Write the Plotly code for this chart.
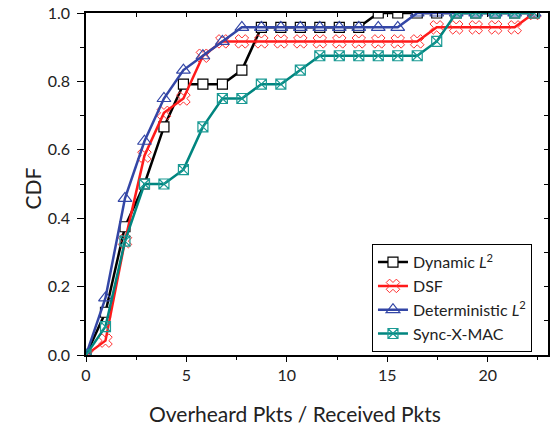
import plotly.graph_objects as go

# ---- data ----
x_vals = [0, 0.97, 1.94, 2.91, 3.88, 4.85, 5.82, 6.79, 7.76, 8.73, 9.70, 10.67,
          11.64, 12.61, 13.58, 14.55, 15.52, 16.49, 17.46, 18.43, 19.40, 20.37, 21.34, 22.31]

dynamic_l2 = [0, 0.125, 0.375, 0.5, 0.667, 0.792, 0.792, 0.792, 0.833, 0.958, 0.958, 0.958,
              0.958, 0.958, 0.958, 1.0, 1.0, 1.0, 1.0, 1.0, 1.0, 1.0, 1.0, 1.0]
dsf = [0, 0.042, 0.333, 0.583, 0.708, 0.75, 0.875, 0.917, 0.917, 0.917, 0.917, 0.917,
       0.917, 0.917, 0.917, 0.917, 0.917, 0.917, 0.958, 0.958, 0.958, 0.958, 0.958, 1.0]
deterministic_l2 = [0, 0.167, 0.458, 0.625, 0.75, 0.833, 0.875, 0.917, 0.958, 0.958, 0.958, 0.958,
                    0.958, 0.958, 0.958, 0.958, 0.958, 1.0, 1.0, 1.0, 1.0, 1.0, 1.0, 1.0]
sync_x_mac = [0, 0.083, 0.333, 0.5, 0.5, 0.542, 0.667, 0.75, 0.75, 0.792, 0.792, 0.833,
              0.875, 0.875, 0.875, 0.875, 0.875, 0.875, 0.917, 1.0, 1.0, 1.0, 1.0, 1.0]

series_names = ["Dynamic <i>L</i><sup>2</sup>", "DSF", "Deterministic <i>L</i><sup>2</sup>", "Sync-X-MAC"]
x_title = "Overheard Pkts / Received Pkts"
y_title = "CDF"
x_range = [0, 23]
y_range = [0, 1]

FONT = "Lato"

fig = go.Figure()

styles = [
    dict(line=dict(color="#000000", width=2.5),
         marker=dict(symbol="square", size=10, color="white", line=dict(color="#000000", width=1.2))),
    dict(line=dict(color="#FF1A1A", width=2.5),
         marker=dict(symbol="x-open", size=12, color="#FF3030", line=dict(width=1))),
    dict(line=dict(color="#3346A6", width=2.5),
         marker=dict(symbol="triangle-up-open", size=12, color="#3346A6", line=dict(width=1.2))),
    dict(line=dict(color="#00857F", width=2.5),
         marker=dict(symbol="square-x-open", size=10, color="#1A9A94", line=dict(width=1.2))),
]
data = [dynamic_l2, dsf, deterministic_l2, sync_x_mac]

for name, ys, st in zip(series_names, data, styles):
    fig.add_trace(go.Scatter(x=x_vals, y=ys, mode="lines+markers", name=name,
                             line=st["line"], marker=st["marker"]))

# dummy trace to register mirrored axes with inward ticks
fig.add_trace(go.Scatter(x=[x_range[0]], y=[y_range[0]], xaxis="x2", yaxis="y2",
                         mode="markers", marker=dict(opacity=0), showlegend=False, hoverinfo="skip"))

fig.update_layout(
    width=560, height=430,
    paper_bgcolor="white", plot_bgcolor="white",
    margin=dict(l=86, r=12, t=13, b=75, autoexpand=False),
    font=dict(family=FONT, color="#222222"),
    hovermode=False,
    xaxis=dict(range=x_range, dtick=5, tick0=0, showgrid=False, zeroline=False, automargin=False,
               showline=True, linecolor="black", linewidth=1.5,
               ticks="outside", ticklen=5, tickwidth=1, tickcolor="black",
               minor=dict(ticks="outside", dtick=2.5, ticklen=3, tickcolor="black", showgrid=False),
               tickfont=dict(size=16, family=FONT, color="#222")),
    yaxis=dict(range=y_range, dtick=0.2, tick0=0, tickformat=".1f", showgrid=False, zeroline=False, automargin=False,
               showline=True, linecolor="black", linewidth=1.5,
               ticks="outside", ticklen=7, tickwidth=1, tickcolor="black", ticklabelstandoff=4,
               minor=dict(ticks="outside", dtick=0.1, ticklen=4, tickcolor="black", showgrid=False),
               tickfont=dict(size=16, family=FONT, color="#222")),
    xaxis2=dict(range=x_range, overlaying="x", side="top", showgrid=False, zeroline=False, automargin=False,
                showline=True, linecolor="black", linewidth=1.5, showticklabels=False,
                ticks="inside", dtick=2.5, tick0=0, ticklen=4, tickcolor="black"),
    yaxis2=dict(range=y_range, overlaying="y", side="right", anchor="x2", showgrid=False, zeroline=False, automargin=False,
                showline=True, linecolor="black", linewidth=1.5, showticklabels=False,
                ticks="inside", dtick=0.1, tick0=0, ticklen=4, tickcolor="black"),
    legend=dict(x=0.619, y=0.324, xanchor="left", yanchor="top",
                bgcolor="white", bordercolor="black", borderwidth=1,
                font=dict(size=16, family=FONT, color="#222"), tracegroupgap=0),
    showlegend=True,
    annotations=[
        dict(text=x_title, xref="paper", yref="paper", x=0.453, y=-0.172,
             xanchor="center", yanchor="middle", showarrow=False,
             font=dict(size=21, family=FONT, color="#222")),
        dict(text=y_title, xref="paper", yref="paper", x=-0.116, y=0.488, textangle=-90,
             xanchor="center", yanchor="middle", showarrow=False,
             font=dict(size=21, family=FONT, color="#222")),
    ],
)

# remove the browser's default 8px body margin so the figure sits at the page origin
fig.write_html("out.html", config={"displayModeBar": False},
               post_script="document.body.style.margin='0';")
